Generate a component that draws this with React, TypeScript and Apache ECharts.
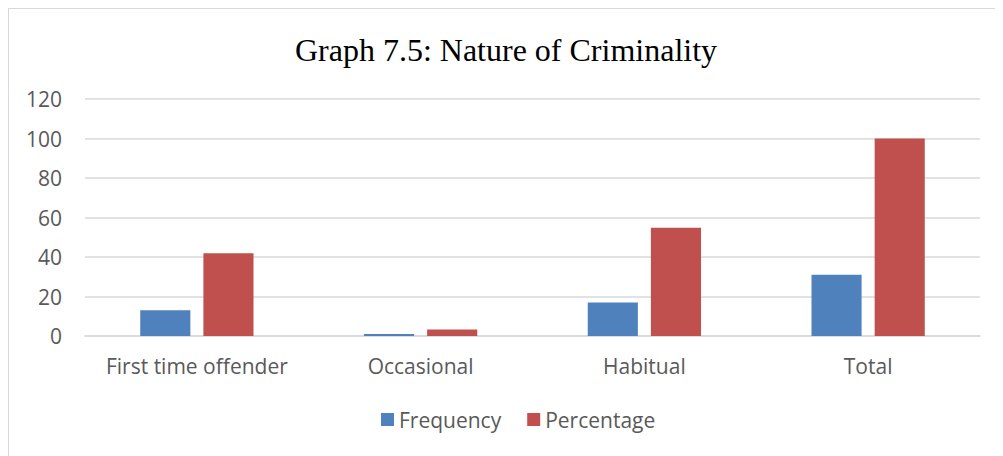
import React, { useEffect, useRef } from "react";
import * as echarts from "echarts";

const categories = ["First time offender", "Occasional", "Habitual", "Total"];
const frequency = [13, 1, 17, 31];
const percentage = [41.94, 3.23, 54.84, 100];
const yTicks = { min: 0, max: 120, interval: 20 };
const titleText = "Graph 7.5: Nature of Criminality";

export default function App() {
  const ref = useRef<HTMLDivElement>(null);
  useEffect(() => {
    if (!ref.current) return;
    const chart = echarts.init(ref.current, null, { renderer: "svg" });
    const labelFont = "'Open Sans', 'Noto Sans', sans-serif";
    chart.setOption({
      animation: false,
      backgroundColor: "#ffffff",
      title: {
        text: titleText,
        left: "center",
        top: 20,
        textStyle: {
          fontFamily: "'Liberation Serif', 'Times New Roman', serif",
          fontSize: 32,
          fontWeight: "normal",
          color: "#000000",
        },
      },
      legend: {
        bottom: 21,
        left: 367,
        itemWidth: 13,
        itemHeight: 13,
        itemGap: 26,
        icon: "rect",
        textStyle: { fontFamily: labelFont, fontSize: 21, color: "#595959" },
        data: ["Frequency", "Percentage"],
      },
      grid: { left: 76, right: 23, top: 90, bottom: 120 },
      xAxis: {
        type: "category",
        data: categories,
        axisLine: { lineStyle: { color: "#d9d9d9", width: 1.5 } },
        axisTick: { show: false },
        axisLabel: { interval: 0, fontFamily: labelFont, fontSize: 21, color: "#595959", margin: 19 },
      },
      yAxis: {
        type: "value",
        min: yTicks.min,
        max: yTicks.max,
        interval: yTicks.interval,
        axisLine: { show: false },
        axisTick: { show: false },
        axisLabel: { fontFamily: labelFont, fontSize: 21, color: "#595959", margin: 23 },
        splitLine: { lineStyle: { color: "#d9d9d9", width: 1.5 } },
      },
      series: [
        {
          name: "Frequency",
          type: "bar",
          data: frequency,
          barWidth: "22.4%",
          barGap: "26%",
          itemStyle: { color: "#4f81bd" },
        },
        {
          name: "Percentage",
          type: "bar",
          data: percentage,
          barWidth: "22.4%",
          itemStyle: { color: "#c0504d" },
        },
      ],
    });
    return () => chart.dispose();
  }, []);
  return (
    <div
      style={{
        width: 995,
        height: 448,
        boxSizing: "border-box",
        borderLeft: "1px solid #d9d9d9",
        borderTop: "1px solid #d9d9d9",
        background: "#fff",
      }}
    >
      <div ref={ref} style={{ width: 994, height: 447 }} />
    </div>
  );
}
